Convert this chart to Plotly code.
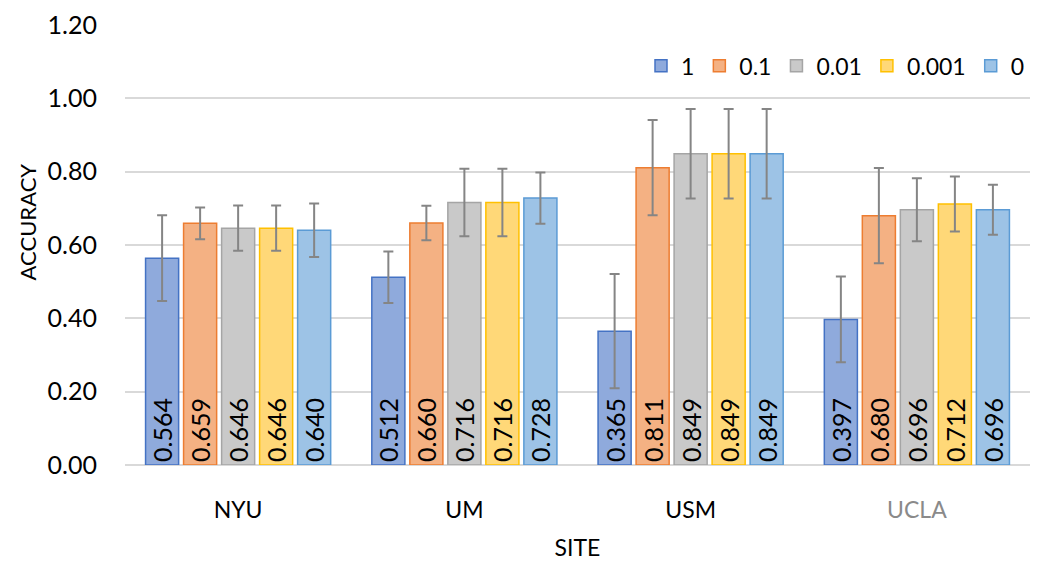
import plotly.graph_objects as go

# sites on the x axis
sites = ["NYU", "UM", "USM", "UCLA"]

# legend names (one series per value)
series_names = ["1", "0.1", "0.01", "0.001", "0"]

# accuracy per series, one value per site
acc_1 = [0.564, 0.512, 0.365, 0.397]
acc_01 = [0.659, 0.660, 0.811, 0.680]
acc_001 = [0.646, 0.716, 0.849, 0.696]
acc_0001 = [0.646, 0.716, 0.849, 0.712]
acc_0 = [0.640, 0.728, 0.849, 0.696]

# error bars (std)
err_1 = [0.117, 0.070, 0.156, 0.117]
err_01 = [0.043, 0.047, 0.130, 0.130]
err_001 = [0.062, 0.092, 0.122, 0.086]
err_0001 = [0.062, 0.092, 0.122, 0.075]
err_0 = [0.073, 0.070, 0.122, 0.068]

values = [acc_1, acc_01, acc_001, acc_0001, acc_0]
errors = [err_1, err_01, err_001, err_0001, err_0]

fills = ["#8FAADC", "#F4B183", "#C9C9C9", "#FFD878", "#9DC3E6"]
edges = ["#4472C4", "#ED7D31", "#A5A5A5", "#FFC000", "#5B9BD5"]

FONT = "Lato"

fig = go.Figure()
for name, vals, errs, fc, ec in zip(series_names, values, errors, fills, edges):
    fig.add_trace(go.Bar(
        name=name,
        x=sites,
        y=vals,
        marker=dict(color=fc, line=dict(color=ec, width=1.5)),
        error_y=dict(type="data", array=errs, color="#858585", thickness=2, width=5),
        text=[f"{v:.3f}" for v in vals],
        textposition="inside",
        insidetextanchor="start",
        textangle=-90,
        insidetextfont=dict(family=FONT, size=25, color="black"),
    ))

# page body adds an 8px offset, so the figure is drawn a bit smaller
fig.update_layout(
    width=1034,
    height=554,
    barmode="group",
    bargap=0.16,
    bargroupgap=0.13,
    plot_bgcolor="white",
    paper_bgcolor="white",
    font=dict(family=FONT, size=22, color="black"),
    margin=dict(l=117, r=12, t=17, b=97),
    uniformtext=dict(minsize=25, mode="show"),
    legend=dict(
        orientation="h",
        x=1.0, xanchor="right",
        y=0.907, yanchor="middle",
        font=dict(size=23),
        itemwidth=30,
        traceorder="normal",
    ),
    xaxis=dict(
        title=dict(text="SITE", font=dict(size=23), standoff=17),
        tickfont=dict(size=23),
        tickvals=sites,
        ticktext=["NYU", "UM", "USM", "<span style='color:#8A8A8A'>UCLA</span>"],
        showline=False,
        ticks="",
        ticklabelstandoff=29,
        automargin=False,
    ),
    yaxis=dict(
        range=[0, 1.2],
        dtick=0.2,
        tickformat=".2f",
        tickfont=dict(size=25),
        gridcolor="#D9D9D9",
        gridwidth=1.5,
        zeroline=True,
        zerolinecolor="#D9D9D9",
        zerolinewidth=1.5,
        ticks="",
        ticklabelstandoff=27,
        automargin=False,
    ),
    annotations=[dict(
        text="ACCURACY",
        textangle=-90,
        xref="paper", yref="paper",
        x=-0.108, y=0.552,
        xanchor="center", yanchor="middle",
        showarrow=False,
        font=dict(size=22),
    )],
)

fig.write_html("out.html")
